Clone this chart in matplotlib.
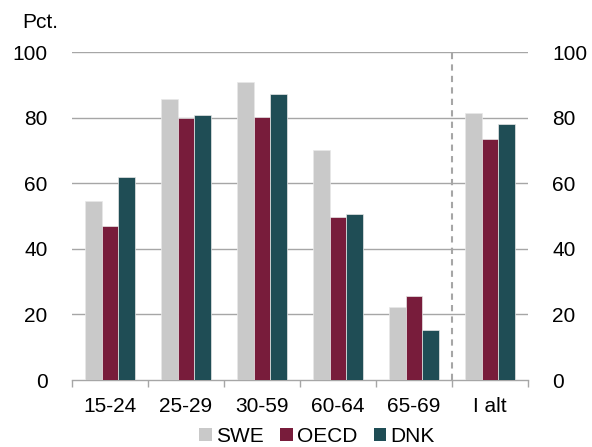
import matplotlib
matplotlib.use('Agg')
import matplotlib.pyplot as plt
import numpy as np
from matplotlib.patches import Patch

# Data
categories = ['15-24', '25-29', '30-59', '60-64', '65-69', 'I alt']
swe = [54.7, 85.7, 91.0, 70.2, 22.3, 81.4]
oecd = [46.9, 80.0, 80.2, 49.7, 25.5, 73.6]
dnk = [62.0, 80.9, 87.3, 50.5, 15.3, 78.2]
series_names = ['SWE', 'OECD', 'DNK']
colors = ['#C9C9C9', '#781C3B', '#1F4D55']
y_ticks = [0, 20, 40, 60, 80, 100]

plt.rcParams['font.family'] = ['Liberation Sans', 'DejaVu Sans']
FS = 15

fig = plt.figure(figsize=(5.92, 4.47), dpi=100)
ax = fig.add_axes([72 / 592, 1 - 380 / 447, 456 / 592, 328 / 447])

x = np.arange(len(categories))
w = 0.218
for i, (vals, c) in enumerate(zip([swe, oecd, dnk], colors)):
    ax.bar(x + (i - 1) * w, vals, width=w, color=c, edgecolor='#E8E8E8',
           linewidth=0.5, zorder=3)

# Gridlines
for t in y_ticks[1:]:
    ax.axhline(t, color='#A6A6A6', linewidth=1, zorder=1)

# Separator before the total
ax.axvline(4.5, color='#A6A6A6', linewidth=1.5, linestyle=(0, (3, 2.5)), zorder=2)

ax.set_xlim(-0.5, len(categories) - 0.5)
ax.set_ylim(0, 100)

# Category boundaries as ticks, labels centred between them
ax.set_xticks(np.arange(-0.5, len(categories), 1))
ax.set_xticklabels([])
ax.set_xticks(x, minor=True)
ax.set_xticklabels(categories, minor=True, fontsize=FS)
ax.tick_params(axis='x', which='major', length=5, color='#A6A6A6', width=1)
ax.tick_params(axis='x', which='minor', length=0, pad=12)

ax.set_yticks(y_ticks)
ax.set_yticklabels([str(t) for t in y_ticks], fontsize=FS)
ax.tick_params(axis='y', left=False, right=False, labelleft=True,
               labelright=True, pad=14)

for s in ['top', 'left', 'right']:
    ax.spines[s].set_visible(False)
ax.spines['bottom'].set_color('#A6A6A6')
ax.spines['bottom'].set_linewidth(1)

fig.text(22 / 592, 1 - 22 / 447, 'Pct.', fontsize=FS, ha='left', va='center')

handles = [Patch(facecolor=c, edgecolor='none') for c in colors]
fig.legend(handles, series_names, loc='center', bbox_to_anchor=(317 / 592, 1 - 436 / 447),
           ncol=3, frameon=False, fontsize=FS, handlelength=0.6, handleheight=0.6,
           handletextpad=0.2, columnspacing=0.8, borderpad=0)

fig.savefig('out.png', dpi=100)
